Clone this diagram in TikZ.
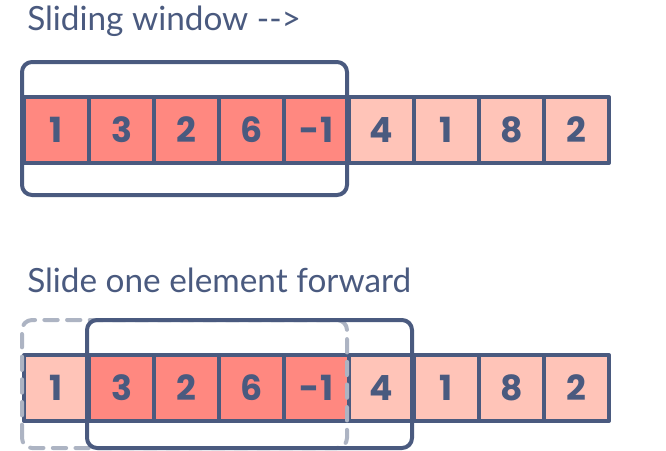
\documentclass[tikz,border=0pt]{standalone}
\usepackage{fontspec}
\setmainfont{Lato}
\newfontfamily\numfont{Poppins}
\definecolor{ink}{HTML}{4A5A7F}
\definecolor{hot}{HTML}{FF8880}
\definecolor{warm}{HTML}{FFC4B8}
\definecolor{ghost}{HTML}{ADB4C3}
\begin{document}
\begin{tikzpicture}[x=0.75pt,y=-0.75pt,line join=round,
  cellbox/.style={draw=ink,line width=3pt,minimum width=65*0.75pt,minimum height=66*0.75pt,inner sep=0pt,anchor=north west,
     text=ink,font=\numfont\bfseries\fontsize{26pt}{30pt}\selectfont},
  hotcell/.style={cellbox,fill=hot},
  warmcell/.style={cellbox,fill=warm},
  title/.style={anchor=base west,inner sep=0pt,text=ink,font=\fontsize{25pt}{28pt}\selectfont},
  window/.style={draw=ink,line width=3pt,rounded corners=7.5pt},
  ghostwin/.style={draw=ghost,line width=3pt,rounded corners=7.5pt,line cap=round,dash pattern=on 10pt off 7pt}]
\useasboundingbox (0,0) rectangle (666,450);
\fill[white] (0,0) rectangle (666,450);
\node[title] (t1) at (27,30) {Sliding window -{}-{}>};
\node[title] (t2) at (27,292) {Slide one element forward};
% top array
\foreach \v [count=\i from 0] in {1,3,2,6,-1}
  \node[hotcell] (a\i) at (22+65*\i,95) {\v};
\foreach \v [count=\i from 5] in {4,1,8,2}
  \node[warmcell] (a\i) at (22+65*\i,95) {\v};
\draw[window] (22,62) rectangle (347,195);
% bottom array
\node[warmcell] (b0) at (22,353) {1};
\foreach \v [count=\i from 1] in {3,2,6,-1}
  \node[hotcell] (b\i) at (22+65*\i,353) {\v};
\foreach \v [count=\i from 5] in {4,1,8,2}
  \node[warmcell] (b\i) at (22+65*\i,353) {\v};
\draw[ghostwin] (22,448) -- (22,320) -- (347,320) -- (347,448) -- cycle;
\draw[window] (87,320) rectangle (412,448);
\end{tikzpicture}
\end{document}
